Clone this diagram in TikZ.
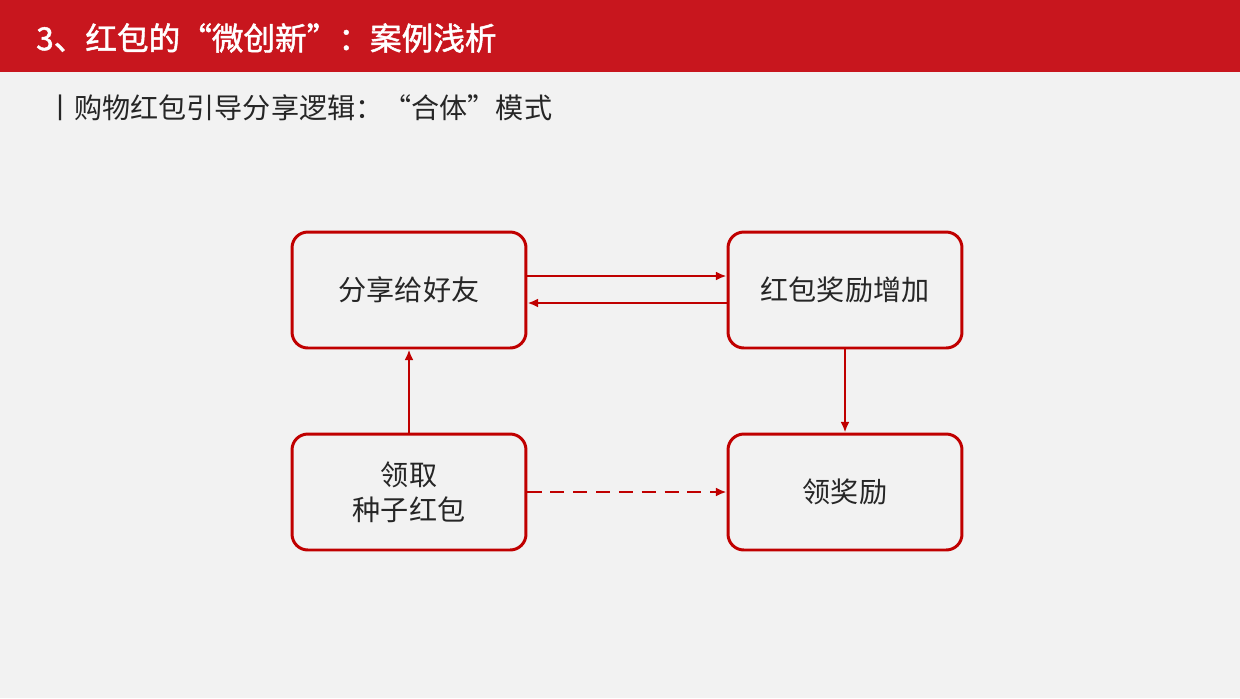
\documentclass[tikz,border=0pt]{standalone}
\usepackage{fontspec}
\setmainfont{Noto Sans CJK SC}
\newfontfamily\cjkb[FakeBold=1.5]{Noto Sans CJK SC}
\usetikzlibrary{arrows.meta}
\definecolor{hred}{HTML}{C8161E}
\definecolor{bred}{HTML}{C00000}
\definecolor{bg}{HTML}{F2F2F2}
\tikzset{
 box/.style={draw=bred,line width=1.7pt,rounded corners=9pt,minimum width=4.68cm,minimum height=2.32cm,align=center,font=\fontsize{16}{20}\selectfont,text=black!85},
 conn/.style={draw=bred,line width=1.4pt,-{Latex[length=6pt,width=5pt]}}
}
\begin{document}
\begin{tikzpicture}[x=0.02cm,y=-0.02cm]
\useasboundingbox (0,0) rectangle (1240,698);
\fill[bg] (0,0) rectangle (1240,698);
\fill[hred] (0,0) rectangle (1240,72);
\node[anchor=west,text=white,font=\cjkb\fontsize{18}{22}\selectfont] (title) at (30,38) {3、红包的“微创新”：案例浅析};
\node[anchor=west,text=black!85,font=\fontsize{16}{20}\selectfont] (sub) at (40,108) {丨购物红包引导分享逻辑：“合体”模式};
\node[box] (a) at (409,290) {分享给好友};
\node[box] (b) at (845,290) {红包奖励增加};
\node[box] (c) at (409,492) {领取\\种子红包};
\node[box] (d) at (845,492) {领奖励};
\draw[conn] (a.east|-0,276) -- (b.west|-0,276);
\draw[conn] (b.west|-0,303) -- (a.east|-0,303);
\draw[conn] (c.north) -- (a.south);
\draw[conn] (b.south) -- (d.north);
\draw[conn,dashed,dash pattern=on 8pt off 5pt] (c.east) -- (d.west);
\end{tikzpicture}
\end{document}
